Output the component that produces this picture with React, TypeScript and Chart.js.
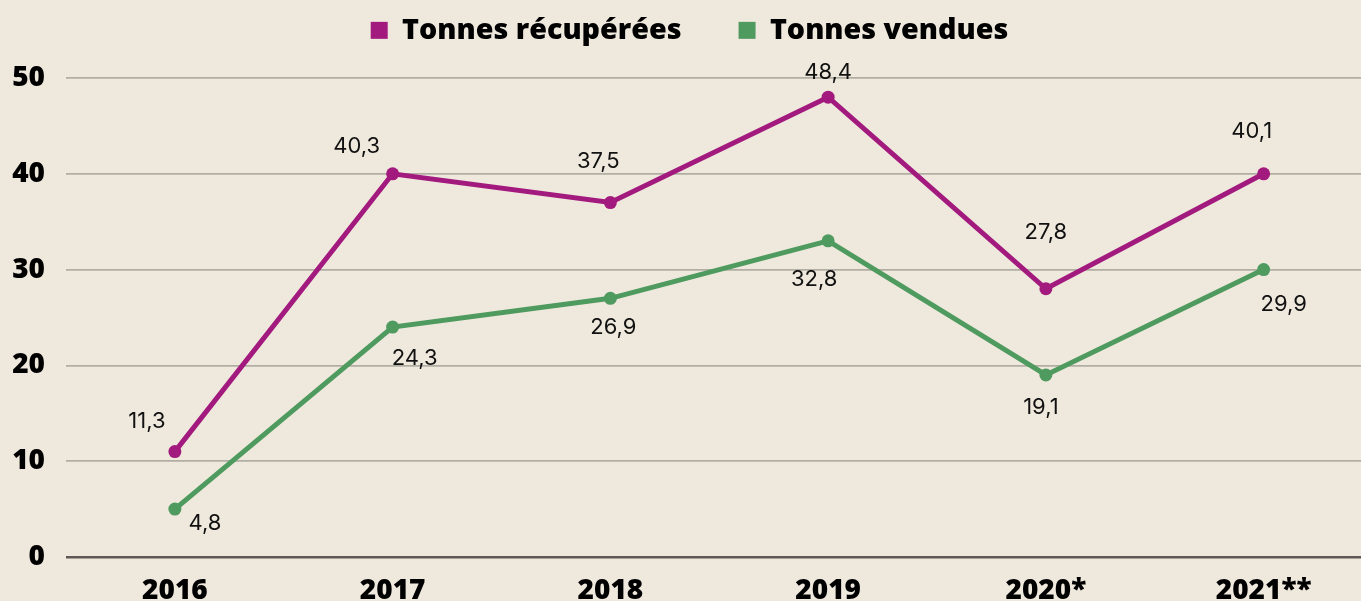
import React, { useEffect, useRef } from "react";
import { Chart, registerables } from "chart.js";

Chart.register(...registerables);

// ---- Data ----
const categories = ["2016", "2017", "2018", "2019", "2020*", "2021**"];
const recupereesValues = [11, 40, 37, 48, 28, 40];
const recupereesLabels = ["11,3", "40,3", "37,5", "48,4", "27,8", "40,1"];
const venduesValues = [5, 24, 27, 33, 19, 30];
const venduesLabels = ["4,8", "24,3", "26,9", "32,8", "19,1", "29,9"];
const yTickValues = [0, 10, 20, 30, 40, 50];
const seriesNames = ["Tonnes récupérées", "Tonnes vendues"];

// ---- Style ----
const BG = "#EFE9DD";
const MAGENTA = "#A31A7E";
const GREEN = "#4F9A5F";
const GRID = "#B3AEA3";
const ZERO = "#5E5954";
const BOLD_FONT = "'Open Sans', sans-serif";
const LABEL_FONT = "Inter, 'Open Sans', sans-serif";
// label offsets (px) relative to each point
const recupereesLabelOffsets = [[-28, -30], [-36, -27], [-12, -41], [0, -25], [0, -56], [-12, -42]];
const venduesLabelOffsets = [[30, 14], [22, 31], [3, 29], [-14, 39], [-5, 32], [20, 35]];

const CANVAS_W = 1379;
const CANVAS_H = 601;
const LEGEND_PAD = 57;
const LAYOUT_TOP = -41;
const CHART_TOP = 78;

const legendSpacer = {
  id: "legendSpacer",
  beforeLayout(chart: any) {
    const lg = chart.legend;
    if (lg && !lg.__patched) {
      const orig = lg.fit.bind(lg);
      lg.fit = function () {
        orig();
        this.height = CHART_TOP - LAYOUT_TOP;
      };
      lg.__patched = true;
    }
  },
};

const valueLabels = {
  id: "valueLabels",
  afterDatasetsDraw(chart: any) {
    const ctx = chart.ctx;
    const sets = [
      { labels: recupereesLabels, offsets: recupereesLabelOffsets },
      { labels: venduesLabels, offsets: venduesLabelOffsets },
    ];
    ctx.save();
    ctx.font = `400 22px ${LABEL_FONT}`;
    ctx.fillStyle = "#111";
    ctx.textAlign = "center";
    ctx.textBaseline = "middle";
    sets.forEach((s, di) => {
      const meta = chart.getDatasetMeta(di);
      meta.data.forEach((pt: any, i: number) => {
        const [dx, dy] = s.offsets[i];
        ctx.fillText(s.labels[i], pt.x + dx, pt.y + dy);
      });
    });
    ctx.restore();
  },
};

export default function App() {
  const ref = useRef<HTMLCanvasElement | null>(null);

  useEffect(() => {
    document.body.style.margin = "0";
    document.body.style.overflow = "hidden";
    document.body.style.background = BG;
    const canvas = ref.current;
    if (!canvas) return;
    const chart = new Chart(canvas, {
      type: "line",
      data: {
        labels: categories,
        datasets: [
          {
            label: seriesNames[0],
            data: recupereesValues,
            borderColor: MAGENTA,
            backgroundColor: MAGENTA,
            borderWidth: 5,
            pointRadius: 6.5,
            pointBorderWidth: 0,
            pointBackgroundColor: MAGENTA,
            tension: 0,
            clip: false as any,
          },
          {
            label: seriesNames[1],
            data: venduesValues,
            borderColor: GREEN,
            backgroundColor: GREEN,
            borderWidth: 5,
            pointRadius: 6.5,
            pointBorderWidth: 0,
            pointBackgroundColor: GREEN,
            tension: 0,
            clip: false as any,
          },
        ],
      },
      options: {
        animation: false,
        responsive: false,
        maintainAspectRatio: false,
        layout: { padding: { top: LAYOUT_TOP, left: 0, right: 0, bottom: 0 } },
        plugins: {
          legend: {
            display: true,
            position: "top",
            align: "center",
            labels: {
              boxWidth: 17,
              boxHeight: 17,
              padding: LEGEND_PAD,
              color: "#000",
              font: { family: BOLD_FONT, size: 28.7, weight: "800" as any },
              generateLabels: (chart: any) =>
                Chart.defaults.plugins.legend.labels
                  .generateLabels(chart)
                  .map((it: any) => ({ ...it, lineWidth: 0, strokeStyle: "rgba(0,0,0,0)" })),
            },
          },
          tooltip: { enabled: false },
        },
        scales: {
          x: {
            type: "category",
            offset: true,
            grid: { display: false, drawTicks: false },
            border: { display: false },
            ticks: {
              color: "#000",
              padding: 17,
              font: { family: BOLD_FONT, size: 28, weight: "800" as any },
            },
            afterFit: (s: any) => {
              s.height = CANVAS_H - 557;
            },
          },
          y: {
            min: 0,
            max: 50,
            afterBuildTicks: (s: any) => {
              s.ticks = yTickValues.map((v) => ({ value: v }));
            },
            grid: {
              drawTicks: false,
              color: (c: any) => (c.tick && c.tick.value === 0 ? ZERO : GRID),
              lineWidth: (c: any) => (c.tick && c.tick.value === 0 ? 2.5 : 1.8),
            },
            border: { display: false },
            ticks: {
              color: "#000",
              padding: 21,
              font: { family: BOLD_FONT, size: 28, weight: "800" as any },
            },
            afterFit: (s: any) => {
              s.width = 66;
            },
          },
        },
      },
      plugins: [legendSpacer, valueLabels],
    });
    return () => chart.destroy();
  }, []);

  return (
    <div
      style={{
        position: "fixed",
        left: 0,
        top: 0,
        width: CANVAS_W,
        height: CANVAS_H,
        background: BG,
      }}
    >
      <canvas ref={ref} width={CANVAS_W} height={CANVAS_H} style={{ display: "block" }} />
    </div>
  );
}
